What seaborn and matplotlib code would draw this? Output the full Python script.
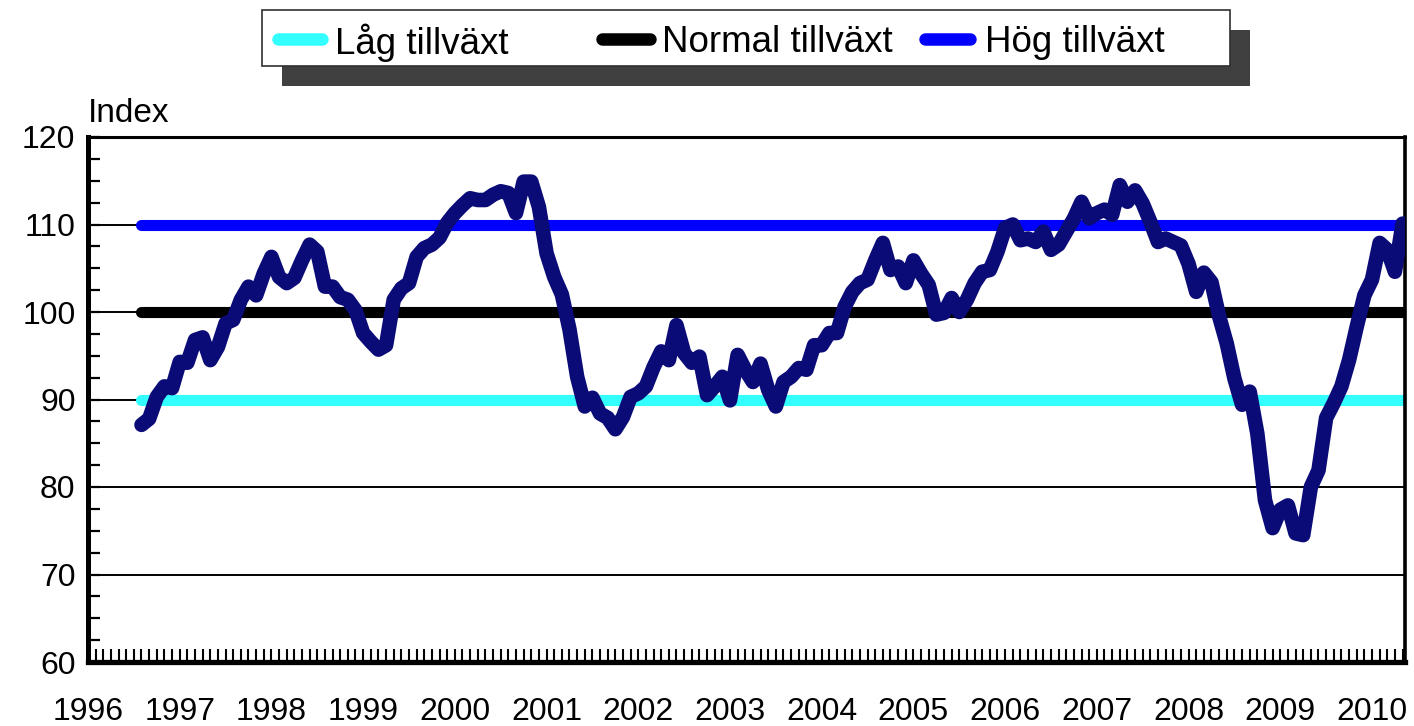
import numpy as np
import pandas as pd
import matplotlib
matplotlib.use("Agg")
import matplotlib.pyplot as plt
from matplotlib.lines import Line2D
from matplotlib.patches import Rectangle
from matplotlib.ticker import FixedLocator, MultipleLocator
import seaborn as sns

# Monthly index, Aug 1996 - May 2010
start_month = "1996-08"
index_values = [
    87.1, 87.8, 90.3, 91.5, 91.3,                                                   # 1996
    94.3, 94.2, 96.8, 97.1, 94.5, 96.0, 98.7, 99.1, 101.4, 102.9, 101.9, 104.4,     # 1997
    106.3, 104.0, 103.3, 103.9, 105.9, 107.7, 106.9, 102.9, 102.9, 101.7, 101.4, 100.2,  # 1998
    97.6, 96.6, 95.7, 96.2, 101.4, 102.7, 103.3, 106.3, 107.3, 107.7, 108.5, 110.2,  # 1999
    111.3, 112.2, 113.0, 112.8, 112.8, 113.4, 113.8, 113.6, 111.3, 114.9, 114.9, 112.0,  # 2000
    106.7, 104.0, 102.0, 98.0, 92.6, 89.2, 90.2, 88.4, 87.9, 86.6, 88.0, 90.3,      # 2001
    90.7, 91.5, 93.7, 95.5, 94.5, 98.5, 95.3, 94.2, 94.9, 90.5, 91.5, 92.6,         # 2002
    89.9, 95.1, 93.4, 92.0, 94.1, 91.1, 89.2, 92.0, 92.6, 93.6, 93.4, 96.2,         # 2003
    96.2, 97.6, 97.6, 100.6, 102.3, 103.3, 103.7, 105.9, 107.9, 104.8, 105.2, 103.3,  # 2004
    105.9, 104.4, 103.1, 99.7, 99.9, 101.6, 100.0, 101.4, 103.3, 104.6, 104.8, 106.9,  # 2005
    109.6, 110.0, 108.2, 108.4, 108.0, 109.2, 107.1, 107.7, 109.2, 110.7, 112.6, 110.7,  # 2006
    111.3, 111.7, 111.1, 114.5, 112.6, 113.9, 112.4, 110.3, 108.0, 108.4, 108.0, 107.6,  # 2007
    105.5, 102.3, 104.5, 103.4, 99.5, 96.4, 92.4, 89.4, 90.9, 86.1, 78.5, 75.3,     # 2008
    77.4, 77.9, 74.7, 74.5, 80.0, 81.9, 87.9, 89.6, 91.5, 94.5, 98.3, 101.9,        # 2009
    103.7, 107.9, 107.1, 104.6, 110.1,                                              # 2010
]

low_level = 90
normal_level = 100
high_level = 110

level_names = ["Låg tillväxt", "Normal tillväxt", "Hög tillväxt"]
level_values = [low_level, normal_level, high_level]
level_colors = ["#33FFFF", "#000000", "#0000FF"]
series_color = "#0B0B78"

year_ticks = list(range(1996, 2011))
y_ticks = [60, 70, 80, 90, 100, 110, 120]

W, H = 1414, 726

dates = pd.date_range(start_month, periods=len(index_values), freq="MS")
df = pd.DataFrame({"t": dates.year + (dates.month - 1) / 12.0, "Index": index_values})
for name, val in zip(level_names, level_values):
    df[name] = val

sns.set_style("white")
plt.rcParams["font.family"] = ["Liberation Sans", "DejaVu Sans"]
plt.rcParams["text.color"] = "black"
plt.rcParams["xtick.labelcolor"] = "black"
plt.rcParams["ytick.labelcolor"] = "black"

fig = plt.figure(figsize=(W / 100, H / 100), dpi=100)
ax = fig.add_axes([88 / W, 1 - 662 / H, (1405 - 88) / W, (662 - 137) / H])

# thin gridlines
ax.yaxis.grid(True, color="black", lw=1.4, zorder=0)
ax.set_axisbelow(True)

for name, col in zip(level_names, level_colors):
    sns.lineplot(data=df, x="t", y=name, color=col, lw=8, ax=ax,
                 solid_capstyle="round", zorder=2)

sns.lineplot(data=df, x="t", y="Index", color=series_color, lw=10.5, ax=ax,
             solid_capstyle="round", solid_joinstyle="round", zorder=3)

ax.set_xlim(1996.0, 2010.36)
ax.set_ylim(60, 120)
ax.set_xlabel("")
ax.set_ylabel("")

ax.xaxis.set_major_locator(FixedLocator(year_ticks))
ax.set_xticklabels([str(y) for y in year_ticks])
ax.xaxis.set_minor_locator(MultipleLocator(1 / 12))
ax.yaxis.set_major_locator(FixedLocator(y_ticks))
ax.yaxis.set_minor_locator(MultipleLocator(2.5))

ax.tick_params(axis="x", which="both", direction="in", length=9.5, width=1.5,
               color="black", bottom=True, top=False)
ax.tick_params(axis="x", which="major", labelsize=23, pad=25)
ax.tick_params(axis="y", which="both", direction="in", length=8.5, width=1.6,
               color="black", left=True, right=False)
ax.tick_params(axis="y", which="major", labelsize=23, pad=9)

for side, lw in [("left", 3.6), ("bottom", 3.8), ("top", 2.2), ("right", 2.6)]:
    ax.spines[side].set_visible(True)
    ax.spines[side].set_color("black")
    ax.spines[side].set_linewidth(lw)

fig.text(88 / W, 1 - 122 / H, "Index", fontsize=24, ha="left", va="baseline")

# legend box with offset shadow
fig.patches.append(Rectangle((282 / W, 1 - 86 / H), 968 / W, 56 / H,
                             transform=fig.transFigure, facecolor="#404040",
                             edgecolor="none", zorder=1))
fig.patches.append(Rectangle((262 / W, 1 - 66 / H), 968 / W, 56 / H,
                             transform=fig.transFigure, facecolor="white",
                             edgecolor="#303030", lw=1.2, zorder=2))

handle_x = [(278, 322), (602, 650), (925, 970)]
text_x = [335, 662, 985]
y_leg = 1 - 39 / H
for (x0, x1), tx, name, col in zip(handle_x, text_x, level_names, level_colors):
    fig.add_artist(Line2D([x0 / W, x1 / W], [y_leg, y_leg], transform=fig.transFigure,
                          color=col, lw=9, solid_capstyle="round", zorder=3))
    fig.text(tx / W, y_leg, name, fontsize=26.5, ha="left", va="center_baseline", zorder=3)

fig.savefig("out.png", dpi=100)
